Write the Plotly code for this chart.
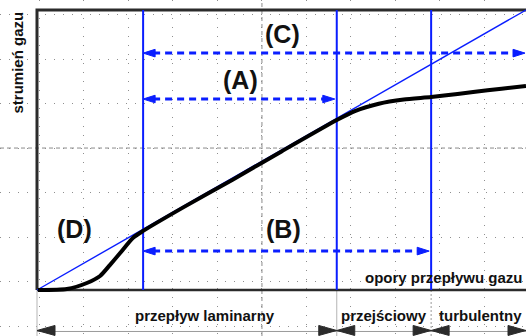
import plotly.graph_objects as go

# ---- data (diagram units: x = flow resistance 0..100, y = gas flow 0..100) ----
curve_x = [0.2, 6.1, 10.2, 12.9, 14.9, 17.0, 19.6, 21.7, 30.0, 40.0, 50.0, 61.3,
           65.0, 69.9, 75.0, 80.6, 86.0, 89.2, 95.0, 100.0]
curve_y = [0.0, 0.36, 2.5, 5.0, 8.9, 13.2, 18.6, 21.1, 29.6, 39.4, 49.5, 60.7,
           63.9, 66.5, 68.0, 68.9, 70.0, 70.7, 71.9, 72.9]
diag_x = [0, 100]
diag_y = [0, 100]
v_lines = [21.7, 61.3, 80.6]
regime_bounds = [0, 61.3, 80.6, 100]
arrow_names = ["C", "A", "B"]
arrow_x0 = [21.7, 21.7, 21.7]
arrow_x1 = [99.8, 60.9, 80.2]
arrow_y = [84.6, 68.2, 13.9]
letter_labels = ["(C)", "(A)", "(B)", "(D)"]
letter_x = [50.3, 41.7, 50.5, 7.6]
letter_y = [91.6, 75.0, 21.8, 21.8]
regime_labels = ["przepływ laminarny", "przejściowy", "turbulentny"]
regime_x = [34.4, 71.0, 90.6]
y_title = "strumień gazu"
x_title = "opory przepływu gazu"

# ---- axis geometry ----
W, H = 526, 336
XR = [-7.566, 100.0]
YR = [-16.43, 103.57]
sx = W / (XR[1] - XR[0])   # px per x unit
sy = H / (YR[1] - YR[0])   # px per y unit
ROW_Y = -14.46             # regime arrows row
REG_TXT_Y = -9.1

BLUE = "#0a1eff"
DARK = "#2b2b2b"
FONT = "Liberation Sans, Arial, sans-serif"

fig = go.Figure()


def add_line(xs, ys, color, width, dash="solid"):
    fig.add_trace(go.Scatter(x=xs, y=ys, mode="lines", hoverinfo="skip",
                             line=dict(color=color, width=width, dash=dash)))


def add_head(tx, ty, d, L, Wd, color):
    dx = L / sx
    dy = Wd / sy
    fig.add_trace(go.Scatter(x=[tx, tx - d * dx, tx - d * dx, tx],
                             y=[ty, ty + dy, ty - dy, ty], mode="lines",
                             fill="toself", fillcolor=color, hoverinfo="skip",
                             line=dict(color=color, width=1)))


# center dash-dot reference lines
add_line([46.0, 46.0], [YR[0], YR[1]], "#8c8c8c", 1, "4px,3px")
add_line([XR[0], XR[1]], [50.7, 50.7], "#8c8c8c", 1, "4px,3px")

# separators below the axis
add_line([0, 0], [0, YR[0]], "#b5b5b5", 1)
add_line([regime_bounds[1]] * 2, [0, YR[0]], "#b5b5b5", 1)
add_line([regime_bounds[2]] * 2, [0, YR[0]], "#9a9a9a", 1, "2px,2px")

# frame
add_line([0, 0, 100], [0, 100, 100], DARK, 3)
add_line([0, 100], [0, 0], DARK, 2.5)

# vertical blue lines
for v in v_lines:
    add_line([v, v], [0, 100], BLUE, 2)

# diagonal
add_line(diag_x, diag_y, BLUE, 1.4)

# curve
fig.add_trace(go.Scatter(x=curve_x, y=curve_y, mode="lines", hoverinfo="skip",
                         line=dict(color="black", width=4, shape="spline", smoothing=0.6)))

# dashed double arrows
for x0, x1, y in zip(arrow_x0, arrow_x1, arrow_y):
    add_line([x0 + 10 / sx, x1 - 10 / sx], [y, y], BLUE, 3, "7px,5px")
    add_head(x0, y, -1, 12, 3.8, BLUE)
    add_head(x1, y, 1, 12, 3.8, BLUE)

# regime arrows below
add_line([0, 100], [ROW_Y - 1 / sy, ROW_Y - 1 / sy], "#9a9a9a", 1)
for a, b in zip(regime_bounds[:-1], regime_bounds[1:]):
    add_head(a, ROW_Y, -1, 18, 5, DARK)
    add_head(b, ROW_Y, 1, 18, 5, DARK)

annotations = []
for t, x, y in zip(letter_labels, letter_x, letter_y):
    annotations.append(dict(text=t, x=x, y=y, xref="x", yref="y", showarrow=False,
                            font=dict(family=FONT, size=25, color="#111111", weight="bold")))
for t, x in zip(regime_labels, regime_x):
    annotations.append(dict(text=t, x=x, y=REG_TXT_Y, xref="x", yref="y", showarrow=False,
                            font=dict(family=FONT, size=15, color="#111111", weight="bold")))
annotations.append(dict(text=x_title, x=83.2, y=4.64, xref="x", yref="y", showarrow=False,
                        font=dict(family=FONT, size=15, color="#111111", weight="bold")))
annotations.append(dict(text=y_title, x=-4.09, y=81.25, xref="x", yref="y", showarrow=False,
                        textangle=-90,
                        font=dict(family=FONT, size=15, color="#111111", weight="bold")))

fig.update_layout(
    width=W, height=H, margin=dict(l=0, r=0, t=0, b=0),
    paper_bgcolor="white", plot_bgcolor="white", showlegend=False,
    annotations=annotations, hovermode=False,
    xaxis=dict(range=XR, showticklabels=False, ticks="", zeroline=False, showline=False,
               showgrid=True, gridcolor="#8f8f8f", gridwidth=1, griddash="1px,8px",
               tick0=46.0, dtick=9.1, fixedrange=True),
    yaxis=dict(range=YR, showticklabels=False, ticks="", zeroline=False, showline=False,
               showgrid=True, gridcolor="#8f8f8f", gridwidth=1, griddash="1px,8px",
               tick0=50.7, dtick=15.89, fixedrange=True),
)

fig.write_html("out.html", config=dict(displayModeBar=False),
               post_script="document.body.style.margin='0px';document.body.style.overflow='hidden';")
